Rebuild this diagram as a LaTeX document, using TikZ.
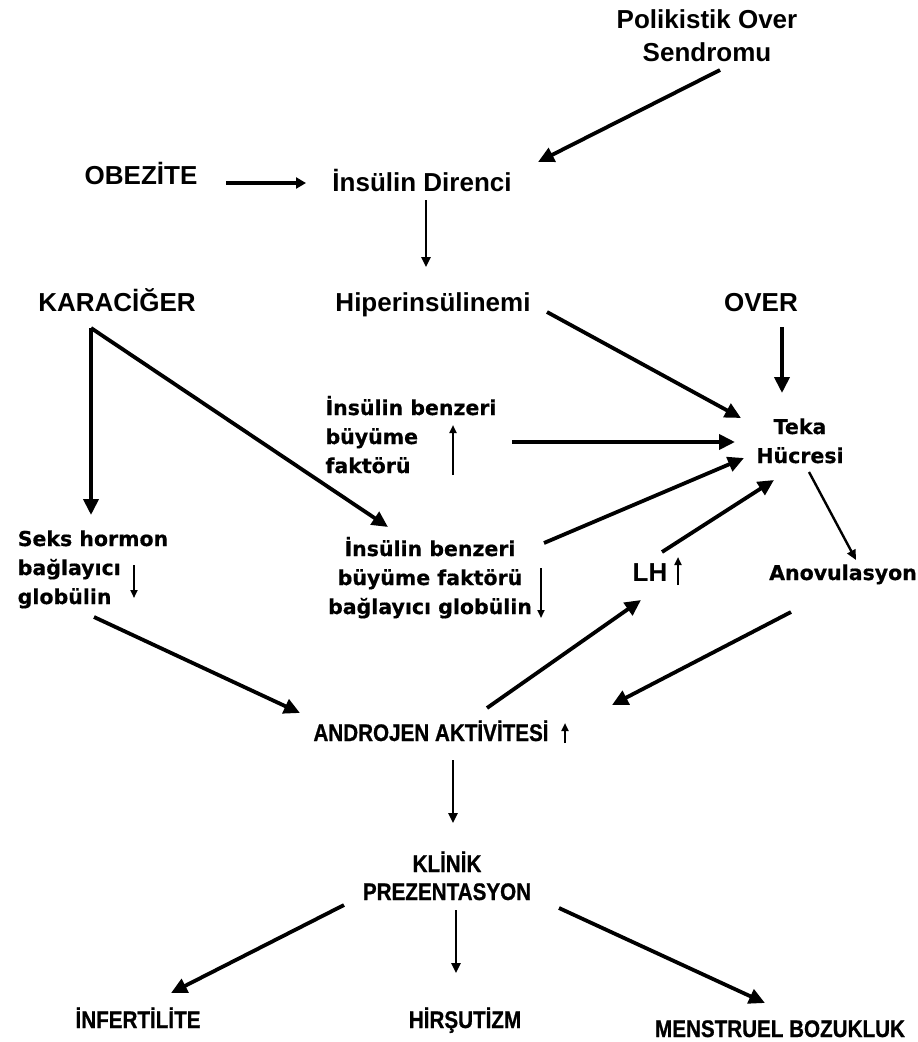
\documentclass[tikz,border=0pt]{standalone}
\usepackage{fontspec}
\setmainfont{Liberation Sans}
\newfontfamily\midfont{DejaVu Sans}[FakeBold=0.6]
\newfontfamily\capfont{Liberation Sans}[FakeStretch=0.86, FakeBold=0.8]
\usetikzlibrary{arrows.meta,calc}

\tikzset{
  arr/.style={-{Triangle[length=16pt,width=15pt]}, line width=3.8pt},
  thinarr/.style={-{Triangle[length=10pt,width=9pt]}, line width=2.4pt},
  trend/.style={-{Triangle[length=8pt,width=7pt]}, line width=2.8pt},
  bigtxt/.style={anchor=base, inner sep=0pt, font=\fontsize{26}{33}\selectfont\bfseries},
  midtxt/.style={anchor=base, inner sep=0pt, font=\midfont\fontsize{20.5}{29}\selectfont\bfseries},
  captxt/.style={anchor=base, inner sep=0pt, font=\capfont\fontsize{24}{28}\selectfont\bfseries},
}

\begin{document}
\begin{tikzpicture}[x=1pt, y=-1pt]
    \useasboundingbox (0,0) rectangle (918,1042);

    % top part (multi-line nodes sit on their last baseline)
    \node[bigtxt, align=center] (pcos) at (707,61) {Polikistik Over\\Sendromu};
    \node[bigtxt] (obez) at (141,184) {OBEZİTE};
    \node[bigtxt] (insdir) at (422,191) {İnsülin Direnci};
    \node[bigtxt] (karac) at (117,311) {KARACİĞER};
    \node[bigtxt] (hiper) at (433,311) {Hiperinsülinemi};
    \node[bigtxt] (over) at (761,311) {OVER};

    % middle part
    \node[midtxt, align=left] (igf) at (411,473) {İnsülin benzeri\\büyüme\\faktörü};
    \node[midtxt, align=center] (teka) at (800,463) {Teka\\Hücresi};
    \node[midtxt, align=left] (seks) at (93,604) {Seks hormon\\bağlayıcı\\globülin};
    \node[midtxt, align=center] (igfbp) at (430,614) {İnsülin benzeri\\büyüme faktörü\\bağlayıcı globülin};
    \node[bigtxt] (lh) at (650,581) {LH};
    \node[midtxt] (anov) at (843,580) {Anovulasyon};

    % bottom part
    \node[captxt] (andro) at (431,741) {ANDROJEN AKTİVİTESİ};
    \node[captxt, align=center] (klinik) at (447,900) {KLİNİK\\PREZENTASYON};
    \node[captxt] (infert) at (138,1028) {İNFERTİLİTE};
    \node[captxt] (hirs) at (465,1028) {HİRŞUTİZM};
    \node[captxt] (menst) at (780,1037) {MENSTRUEL BOZUKLUK};

    % connectors
    \draw[arr] ($(pcos.base)+(13,9)$) -- ($(insdir.base)+(116,-29)$);
    \draw[-{Triangle[length=10pt,width=11pt]}, line width=4.5pt] ($(obez.base)+(85,-1)$) -- ($(insdir.base)+(-116,-8)$);
    \draw[thinarr] ($(insdir.base)+(4,9)$) -- ($(hiper.base)+(-7,-44)$);
    \draw[arr] ($(hiper.base)+(114,1)$) -- ($(teka.base)+(-59,-45)$);
    \draw[arr] ($(over.base)+(21,16)$) -- ($(teka.base)+(-18,-70)$);
    \draw[arr] ($(karac.base)+(-26,17)$) -- ($(seks.base)+(-2,-89)$);
    \draw[arr] ($(karac.base)+(-26,17)$) -- ($(igfbp.base)+(-42,-87)$);
    \draw[arr] ($(igf.base)+(101,-31)$) -- ($(teka.base)+(-65,-21)$);
    \draw[arr] ($(igfbp.base)+(114,-71)$) -- ($(teka.base)+(-56,-5)$);
    \draw[arr] ($(lh.base)+(12,-29)$) -- ($(teka.base)+(-26,17)$);
    \draw[thinarr] ($(teka.base)+(9,9)$) -- ($(anov.base)+(13,-20)$);
    \draw[arr] ($(seks.base)+(1,13)$) -- ($(andro.base)+(-131,-28)$);
    \draw[arr] ($(andro.base)+(56,-33)$) -- ($(lh.base)+(-9,19)$);
    \draw[arr] ($(anov.base)+(-52,32)$) -- ($(andro.base)+(181,-36)$);
    \draw[thinarr] ($(andro.base)+(22,19)$) -- ($(klinik.base)+(6,-77)$);
    \draw[arr] ($(klinik.base)+(-103,5)$) -- ($(infert.base)+(33,-35)$);
    \draw[thinarr] ($(klinik.base)+(9,10)$) -- ($(hirs.base)+(-9,-55)$);
    \draw[arr] ($(klinik.base)+(112,8)$) -- ($(menst.base)+(-15,-34)$);

    % up / down marks beside the texts
    \foreach \x/\ya/\yb in {453/475/425, 134/565/598, 541/568/618, 678/585/557, 565/743/723} {
      \draw[trend] (\x,\ya) -- (\x,\yb);
    }
\end{tikzpicture}
\end{document}
